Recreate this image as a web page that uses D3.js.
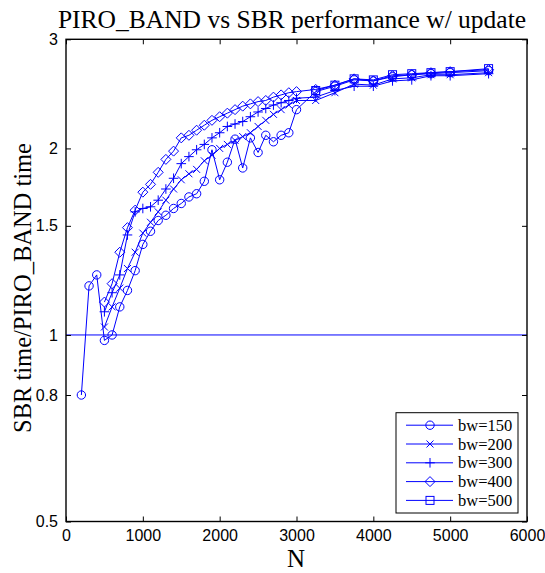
<!DOCTYPE html>
<html>
<head>
<meta charset="utf-8">
<script src="https://cdn.jsdelivr.net/npm/d3@7"></script>
<style>
  html, body { margin: 0; padding: 0; background: #fff; }
  svg { display: block; }
</style>
</head>
<body>
<svg id="chart" width="545" height="573"></svg>
<script>
// Problem sizes (N) and speed-up ratios SBR time / PIRO_BAND time per bandwidth
const nSmall150 = [200, 300, 400, 500, 600, 700, 800, 900, 1000, 1100, 1200, 1300, 1400, 1500, 1600, 1700, 1800, 1900, 2000, 2100, 2200, 2300, 2400, 2500, 2600, 2700, 2800, 2900, 3000];
const nSmall = [500, 600, 700, 800, 900, 1000, 1100, 1200, 1300, 1400, 1500, 1600, 1700, 1800, 1900, 2000, 2100, 2200, 2300, 2400, 2500, 2600, 2700, 2800, 2900, 3000];
const nLarge = [3250, 3500, 3750, 4000, 4250, 4500, 4750, 5000, 5500];

const bw150 = [0.80, 1.20, 1.25, 0.98, 1.00, 1.11, 1.18, 1.27, 1.40, 1.47, 1.53, 1.56, 1.60, 1.63, 1.67, 1.69, 1.77, 1.99, 1.78, 1.90, 2.07, 1.86, 2.08, 1.97, 2.10, 2.05, 2.10, 2.12, 2.31,
               2.47, 2.52, 2.58, 2.57, 2.61, 2.63, 2.64, 2.65, 2.67];
const bw200 = [1.03, 1.11, 1.19, 1.28, 1.36, 1.46, 1.52, 1.58, 1.65, 1.72, 1.78, 1.82, 1.85, 1.91, 1.95, 2.00, 2.03, 2.06, 2.09, 2.12, 2.17, 2.22, 2.27, 2.31, 2.35, 2.39,
               2.39, 2.46, 2.54, 2.53, 2.59, 2.60, 2.63, 2.63, 2.65];
const bw300 = [1.09, 1.17, 1.25, 1.45, 1.58, 1.60, 1.61, 1.65, 1.72, 1.79, 1.89, 1.94, 1.99, 2.03, 2.08, 2.12, 2.17, 2.19, 2.21, 2.25, 2.29, 2.32, 2.35, 2.37, 2.39, 2.41,
               2.42, 2.48, 2.52, 2.52, 2.57, 2.58, 2.62, 2.62, 2.64];
const bw400 = [1.13, 1.21, 1.36, 1.49, 1.59, 1.70, 1.75, 1.83, 1.92, 1.98, 2.08, 2.10, 2.14, 2.18, 2.22, 2.25, 2.28, 2.31, 2.34, 2.36, 2.38, 2.39, 2.42, 2.44, 2.46, 2.47,
               2.49, 2.53, 2.59, 2.57, 2.62, 2.63, 2.65, 2.66, 2.68];
const bw500 = [2.48, 2.53, 2.59, 2.58, 2.63, 2.64, 2.65, 2.66, 2.69];

const seriesLabels = ["bw=150", "bw=200", "bw=300", "bw=400", "bw=500"];
const markerKinds = ["circle", "x", "plus", "diamond", "square"];

const xTicks = [0, 1000, 2000, 3000, 4000, 5000, 6000];
const yTicks = [0.5, 0.8, 1, 1.5, 2, 3];

const series = [
  { label: seriesLabels[0], marker: markerKinds[0], n: nSmall150.concat(nLarge), v: bw150 },
  { label: seriesLabels[1], marker: markerKinds[1], n: nSmall.concat(nLarge), v: bw200 },
  { label: seriesLabels[2], marker: markerKinds[2], n: nSmall.concat(nLarge), v: bw300 },
  { label: seriesLabels[3], marker: markerKinds[3], n: nSmall.concat(nLarge), v: bw400 },
  { label: seriesLabels[4], marker: markerKinds[4], n: nLarge, v: bw500 }
];

const blue = "#0000ff";
const svg = d3.select("#chart");
const plotLeft = 66, plotRight = 527, plotTop = 39.3, plotBottom = 521.5;

const x = d3.scaleLinear().domain([0, 6000]).range([plotLeft, plotRight]);
const y = d3.scaleLog().domain([0.5, 3]).range([plotBottom, plotTop]);

const tickFont = "'Liberation Sans', Arial, Helvetica, sans-serif";
const serif = "'Liberation Serif', 'Times New Roman', Times, serif";

// marker drawing
function drawMarker(g, kind, cx, cy) {
  const s = g.append("g").attr("transform", `translate(${cx},${cy})`)
    .attr("fill", "none").attr("stroke", blue).attr("stroke-width", 1);
  if (kind === "circle") {
    s.append("circle").attr("r", 4.2);
  } else if (kind === "x") {
    s.append("path").attr("d", "M-3.5,-3.5L3.5,3.5M-3.5,3.5L3.5,-3.5");
  } else if (kind === "plus") {
    s.append("path").attr("d", "M-4.8,0L4.8,0M0,-4.8L0,4.8");
  } else if (kind === "diamond") {
    s.append("path").attr("d", "M0,-5L5,0L0,5L-5,0Z");
  } else if (kind === "square") {
    s.append("rect").attr("x", -4).attr("y", -4).attr("width", 8).attr("height", 8);
  }
}

// reference line at ratio 1
svg.append("line")
  .attr("x1", plotLeft).attr("x2", plotRight)
  .attr("y1", y(1)).attr("y2", y(1))
  .attr("stroke", blue).attr("stroke-width", 1);

// series lines and markers
const line = d3.line().x(d => x(d[0])).y(d => y(d[1]));
series.forEach(s => {
  const pts = s.n.map((n, i) => [n, s.v[i]]);
  svg.append("path").datum(pts)
    .attr("d", line)
    .attr("fill", "none").attr("stroke", blue).attr("stroke-width", 1);
  const mg = svg.append("g");
  pts.forEach(p => drawMarker(mg, s.marker, x(p[0]), y(p[1])));
});

// axes with inward ticks on all four sides
const axBottom = d3.axisBottom(x).tickValues(xTicks).tickSize(-5).tickPadding(8).tickFormat(d3.format("d"));
const axTop = d3.axisTop(x).tickValues(xTicks).tickSize(-5).tickFormat("");
const axLeft = d3.axisLeft(y).tickValues(yTicks).tickSize(-5).tickPadding(8).tickFormat(d => String(d));
const axRight = d3.axisRight(y).tickValues(yTicks).tickSize(-5).tickFormat("");

function styleAxis(g) {
  g.select(".domain").remove();
  g.selectAll("line").attr("stroke", "#000").attr("stroke-width", 1);
  g.selectAll("text").attr("fill", "#000").style("font-family", tickFont).style("font-size", "16px");
}
svg.append("g").attr("transform", `translate(0,${plotBottom})`).call(axBottom).call(styleAxis);
svg.append("g").attr("transform", `translate(0,${plotTop})`).call(axTop).call(styleAxis);
svg.append("g").attr("transform", `translate(${plotLeft},0)`).call(axLeft).call(styleAxis);
svg.append("g").attr("transform", `translate(${plotRight},0)`).call(axRight).call(styleAxis);

// plot frame
svg.append("rect")
  .attr("x", plotLeft).attr("y", plotTop)
  .attr("width", plotRight - plotLeft).attr("height", plotBottom - plotTop)
  .attr("fill", "none").attr("stroke", "#000").attr("stroke-width", 1.4);

// title and axis labels
svg.append("text")
  .attr("x", 292).attr("y", 28)
  .attr("text-anchor", "middle")
  .style("font-family", serif).style("font-size", "25.5px")
  .text("PIRO_BAND vs SBR performance w/ update");

svg.append("text")
  .attr("x", 296).attr("y", 567)
  .attr("text-anchor", "middle")
  .style("font-family", serif).style("font-size", "25px")
  .text("N");

svg.append("text")
  .attr("transform", `translate(31,288) rotate(-90)`)
  .attr("text-anchor", "middle")
  .style("font-family", serif).style("font-size", "24.5px")
  .text("SBR time/PIRO_BAND time");

// legend
const lg = svg.append("g");
const lx = 396, ly = 412.7, lw = 122, lh = 100.3;
lg.append("rect").attr("x", lx).attr("y", ly).attr("width", lw).attr("height", lh)
  .attr("fill", "#fff").attr("stroke", "#000").attr("stroke-width", 1);
series.forEach((s, i) => {
  const yy = ly + 12.5 + i * 18.8;
  lg.append("line").attr("x1", lx + 10).attr("x2", lx + 57).attr("y1", yy).attr("y2", yy)
    .attr("stroke", blue).attr("stroke-width", 1);
  drawMarker(lg, s.marker, lx + 34, yy);
  lg.append("text").attr("x", lx + 62).attr("y", yy + 5.5)
    .style("font-family", serif).style("font-size", "16.5px")
    .text(s.label);
});
</script>
</body>
</html>
